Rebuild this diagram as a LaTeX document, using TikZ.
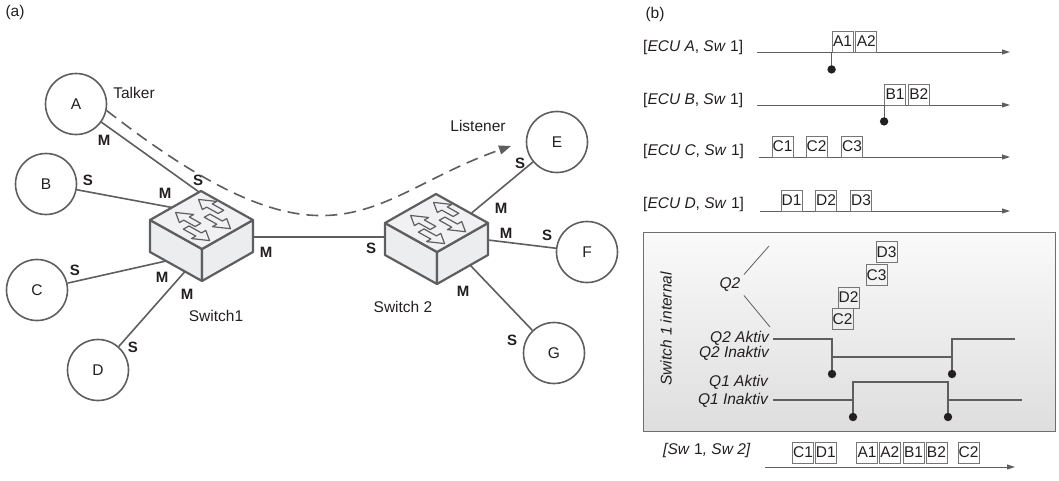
\documentclass[tikz,border=0pt]{standalone}
\usepackage{fontspec}
\setmainfont{Liberation Sans}
\usetikzlibrary{positioning}
\usetikzlibrary{arrows.meta}
\definecolor{wire}{HTML}{5E5E5E}
\definecolor{ink}{HTML}{231F20}
\definecolor{lid}{HTML}{F1F1F3}
\definecolor{flank}{HTML}{ECEDEF}

\tikzset{
  switchbox/.pic={
    \draw[type-case, fill=flank] (0,0) -- (52,29) -- (52,61) -- (0,32) -- cycle;
    \draw[type-case, fill=flank] (52,29) -- (103,0) -- (103,32) -- (52,61) -- cycle;
    \draw[type-case, fill=lid] (0,0) -- (51,-29) -- (103,0) -- (52,29) -- cycle;
    \begin{scope}[x={(51pt,29pt)}, y={(52pt,-29pt)}]
      \foreach \a/\b/\n/\c in {0.83/0.55/0.33/0.12, 0.38/0.55/0.33/0.12,
                               0.63/0.48/0.72/0.93, 0.22/0.48/0.72/0.93}
        \draw[type-glyph] ({\a-0.055},\b) -- ({\a-0.055},\n) -- ({\a-0.14},\n) -- (\a,\c)
          -- ({\a+0.14},\n) -- ({\a+0.055},\n) -- ({\a+0.055},\b) -- cycle;
    \end{scope}
    \coordinate (-top) at (49,-28);
    \coordinate (-nw) at (22,-12.5);
    \coordinate (-sw) at (16,41);
    \coordinate (-s) at (35,51.5);
    \coordinate (-w) at (0,14);
    \coordinate (-e) at (103,17);
    \coordinate (-ne) at (86,-9.5);
    \coordinate (-se) at (85,42);
  }
}

\begin{document}
\begin{tikzpicture}[x=1pt, y=-1pt, font=\fontsize{15.5}{18}\selectfont, text=ink,
    type-station/.style={circle, draw=wire, line width=1.6pt, minimum size=61pt, inner sep=0pt},
    type-port/.style={font=\fontsize{15}{18}\selectfont\bfseries, inner sep=0pt},
    type-link/.style={draw=wire, line width=1.6pt},
    type-stream/.style={draw=wire, line width=1.6pt, dash pattern=on 12pt off 7pt,
      -{Triangle[length=12pt,width=9pt]}},
    type-case/.style={draw=wire, line width=2.2pt, line join=round},
    type-glyph/.style={draw=wire, fill=lid, line width=1.2pt, line join=round},
    type-frame/.style={rectangle, draw=wire!85, line width=0.8pt, minimum width=21pt,
      minimum height=21pt, inner sep=0pt},
    type-axis/.style={draw=wire, line width=1pt, -{Triangle[length=8pt,width=5pt]}},
    type-signal/.style={draw=wire, line width=1.1pt},
    type-caption/.style={inner sep=0pt, anchor=west},
    type-state/.style={inner sep=0pt, anchor=east, font=\fontsize{15.5}{18}\selectfont\itshape}
  ]
  \useasboundingbox (0,0) rectangle (1059,480);

  % network
  \node[inner sep=0pt] (taga) at (15,12) {(a)};
  \node[type-station] (A) at (76,104) {A};
  \node[type-station] (B) at (46,184) {B};
  \node[type-station] (C) at (37,290) {C};
  \node[type-station] (D) at (98,370) {D};
  \node[type-station] (E) at (557,142) {E};
  \node[type-station] (F) at (587,252) {F};
  \node[type-station] (G) at (554,353) {G};

  \pic (sw1) at (150,220) {switchbox};
  \pic (sw2) at (385,223) {switchbox};

  \draw[type-link] (A) -- (sw1-top);
  \draw[type-link] (B) -- (sw1-nw);
  \draw[type-link] (C) -- (sw1-sw);
  \draw[type-link] (D) -- (sw1-s);
  \draw[type-link] (sw1-e) -- (sw2-w);
  \draw[type-link] (E) -- (sw2-ne);
  \draw[type-link] (F) -- (sw2-e);
  \draw[type-link] (G) -- (sw2-se);

  \foreach \t/\x/\y [count=\i] in {M/104/140, S/198/180, S/88/180, M/165/193, M/266/252,
      S/371/248, S/75/270, M/162/277, M/187/294, S/133/347, S/520/163, M/501/208,
      M/506/233, S/547/235, M/463/291, S/512/340}
    \node[type-port] (port\i) at (\x,\y) {\t};

  \node[inner sep=0pt] (talker) at (134,93) {Talker};
  \node[inner sep=0pt] (listener) at (478,126) {Listener};
  \node[inner sep=0pt] (sw1name) at (216,316) {Switch1};
  \node[inner sep=0pt] (sw2name) at (403,307) {Switch 2};

  \coordinate (lis) at (511,146);
  \draw[type-stream] (A.-12) .. controls (336,289) and (367,196) .. (lis);

  % timing
  \node[inner sep=0pt] (tagb) at (655,14) {(b)};

  \node[type-caption] (rowA) at (643,47) {[\textit{ECU A}, \textit{Sw} 1]};
  \draw[type-axis] (757,52) -- (1010,52);
  \node[type-frame] (boxA1) at (842.5,41.5) {A1};
  \node[type-frame, right=2pt of boxA1] (boxA2) {A2};
  \draw[type-signal] (boxA1.south west) -- ++(0,17) coordinate (pinA);

  \node[type-caption] (rowB) at (643,100) {[\textit{ECU B}, \textit{Sw} 1]};
  \draw[type-axis] (757,105) -- (1010,105);
  \node[type-frame] (boxB1) at (895,94.5) {B1};
  \node[type-frame, right=2pt of boxB1] (boxB2) {B2};
  \draw[type-signal] (boxB1.south west) -- ++(0,16) coordinate (pinB);

  \node[type-caption] (rowC) at (643,151) {[\textit{ECU C}, \textit{Sw} 1]};
  \draw[type-axis] (759,157) -- (1010,157);
  \foreach \n/\x in {C1/782.5, C2/816.5, C3/852}
    \node[type-frame] (box\n) at (\x,146.5) {\n};

  \node[type-caption] (rowD) at (643,204) {[\textit{ECU D}, \textit{Sw} 1]};
  \draw[type-axis] (760,211) -- (1010,211);
  \foreach \n/\x in {D1/791.5, D2/826, D3/861}
    \node[type-frame] (box\n) at (\x,200.5) {\n};

  \draw[draw=wire!90, line width=1pt, top color=black!2, bottom color=black!13]
    (643,232) rectangle (1055,431);
  \node[rotate=90, inner sep=0pt, font=\fontsize{15.5}{18}\selectfont\itshape] (swint) at (666,329) {Switch 1 internal};
  \node[font=\fontsize{15.5}{18}\selectfont\itshape] (q2) at (730,285) {Q2};
  \draw[type-signal, line width=0.8pt] (q2.north east) -- (769,246);
  \draw[type-signal, line width=0.8pt] (q2.south east) -- (770,327);
  \node[type-frame] (qD3) at (886.5,252) {D3};
  \node[type-frame] (qC3) at (876.5,275) {C3};
  \node[type-frame] (qD2) at (848.5,297.5) {D2};
  \node[type-frame] (qC2) at (842.5,319) {C2};

  \node[type-state] (q2on) at (769,338) {Q2 Aktiv};
  \node[type-state] (q2off) at (769,353) {Q2 Inaktiv};
  \node[type-state] (q1on) at (768,382) {Q1 Aktiv};
  \node[type-state] (q1off) at (768,400) {Q1 Inaktiv};

  \draw[type-signal] (773,339) -- (832,339) -- (832,374) coordinate (q2down);
  \draw[type-signal] (832,357) -- (952,357);
  \draw[type-signal] (952,374) coordinate (q2up) -- (952,339) -- (1015,339);
  \draw[type-signal] (773,400) -- (853,400);
  \draw[type-signal] (853,417) coordinate (q1up) -- (853,382) -- (948,382) -- (948,417) coordinate (q1down);
  \draw[type-signal] (948,400) -- (1022,400);

  \foreach \p in {pinA, pinB, q2down, q2up, q1up, q1down}
    \fill[ink] (\p) circle (4.2);

  \node[type-caption] (rowSw) at (663,450) {\textit{[Sw }1\textit{, Sw 2]}};
  \draw[type-axis] (765,467) -- (1015,467);
  \node[type-frame] (out1) at (803,452.5) {C1};
  \node[type-frame, right=1pt of out1] (out2) {D1};
  \node[type-frame] (out3) at (867,452.5) {A1};
  \node[type-frame, right=1pt of out3] (out4) {A2};
  \node[type-frame, right=2pt of out4] (out5) {B1};
  \node[type-frame, right=1pt of out5] (out6) {B2};
  \node[type-frame] (out7) at (968.5,452.5) {C2};
\end{tikzpicture}
\end{document}
